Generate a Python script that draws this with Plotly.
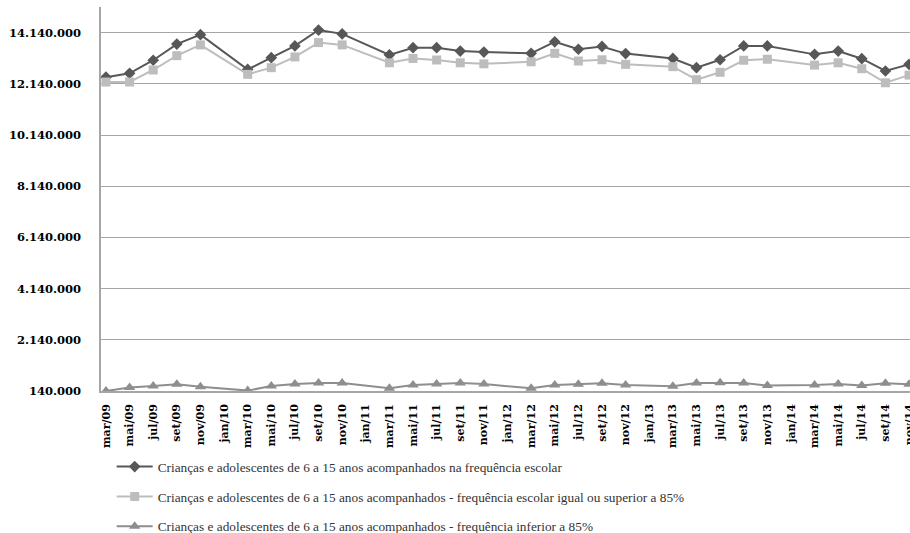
import plotly.graph_objects as go

# Bimonthly reference periods
categories = [
    "mar/09", "mai/09", "jul/09", "set/09", "nov/09",
    "jan/10", "mar/10", "mai/10", "jul/10", "set/10", "nov/10",
    "jan/11", "mar/11", "mai/11", "jul/11", "set/11", "nov/11",
    "jan/12", "mar/12", "mai/12", "jul/12", "set/12", "nov/12",
    "jan/13", "mar/13", "mai/13", "jul/13", "set/13", "nov/13",
    "jan/14", "mar/14", "mai/14", "jul/14", "set/14", "nov/14",
]

# Children and adolescents (6-15) with school attendance tracked (no January collection)
acompanhados = [
    12400000, 12550000, 13060000, 13690000, 14060000,
    None, 12700000, 13160000, 13620000, 14240000, 14090000,
    None, 13270000, 13550000, 13550000, 13420000, 13380000,
    None, 13330000, 13780000, 13490000, 13600000, 13320000,
    None, 13130000, 12770000, 13080000, 13620000, 13620000,
    None, 13290000, 13420000, 13120000, 12640000, 12900000,
]

# Attendance equal to or above 85%
freq_acima_85 = [
    12210000, 12210000, 12680000, 13240000, 13660000,
    None, 12510000, 12770000, 13190000, 13750000, 13660000,
    None, 12960000, 13130000, 13070000, 12960000, 12920000,
    None, 13000000, 13330000, 13030000, 13080000, 12900000,
    None, 12810000, 12300000, 12590000, 13060000, 13100000,
    None, 12870000, 12960000, 12730000, 12180000, 12480000,
]

# Attendance below 85%
freq_abaixo_85 = [
    140000, 273000, 335000, 400000, 310000,
    None, 155000, 335000, 413000, 448000, 448000,
    None, 245000, 370000, 413000, 450000, 413000,
    None, 245000, 374000, 400000, 440000, 374000,
    None, 323000, 450000, 465000, 455000, 350000,
    None, 370000, 413000, 350000, 440000, 400000,
]

y_ticks = [140000 + 2000000 * i for i in range(8)]
y_labels = [f"{v:,}".replace(",", ".") for v in y_ticks]

series = [
    ("Crianças e adolescentes de 6 a 15 anos acompanhados na frequência escolar",
     acompanhados, "#575757", "diamond", 9),
    ("Crianças e adolescentes de 6 a 15 anos acompanhados - frequência escolar igual ou superior a 85%",
     freq_acima_85, "#bdbdbd", "square", 9),
    ("Crianças e adolescentes de 6 a 15 anos acompanhados - frequência inferior a 85%",
     freq_abaixo_85, "#8e8e8e", "triangle-up", 10),
]

fig = go.Figure()
for i, (name, values, color, symbol, size) in enumerate(series):
    fig.add_trace(go.Scatter(
        x=categories, y=values, name=name, mode="lines+markers",
        connectgaps=True, legendgroup=f"g{i}",
        line=dict(color=color, width=2),
        marker=dict(symbol=symbol, size=size, color=color),
    ))

fig.update_layout(
    width=910, height=533,
    margin=dict(l=101, r=0, t=7, b=142, autoexpand=False),
    paper_bgcolor="white", plot_bgcolor="white",
    showlegend=True,
    legend=dict(
        x=0.0132, y=0.153, xanchor="left", yanchor="top", yref="container",
        orientation="v", tracegroupgap=9.5,
        font=dict(family="Liberation Serif", size=13.3, color="#333333"),
        itemwidth=36,
    ),
)

fig.update_xaxes(
    type="category", range=[-0.21, 34.04],
    tickangle=-90, showgrid=False, automargin=False,
    showline=True, linecolor="#a6a6a6", linewidth=1.5,
    ticks="", ticklabelstandoff=7,
    tickfont=dict(family="DejaVu Serif", size=11, color="#000000", weight="bold"),
)

fig.update_yaxes(
    range=[140000, 15140000], automargin=False,
    tickvals=y_ticks, ticktext=y_labels,
    showgrid=True, gridcolor="#a6a6a6", gridwidth=1.2,
    showline=True, linecolor="#a6a6a6", linewidth=1.5,
    zeroline=False, ticks="", ticklabelstandoff=16,
    tickfont=dict(family="DejaVu Serif", size=11.5, color="#000000", weight="bold"),
)

fig.write_html("out.html")
